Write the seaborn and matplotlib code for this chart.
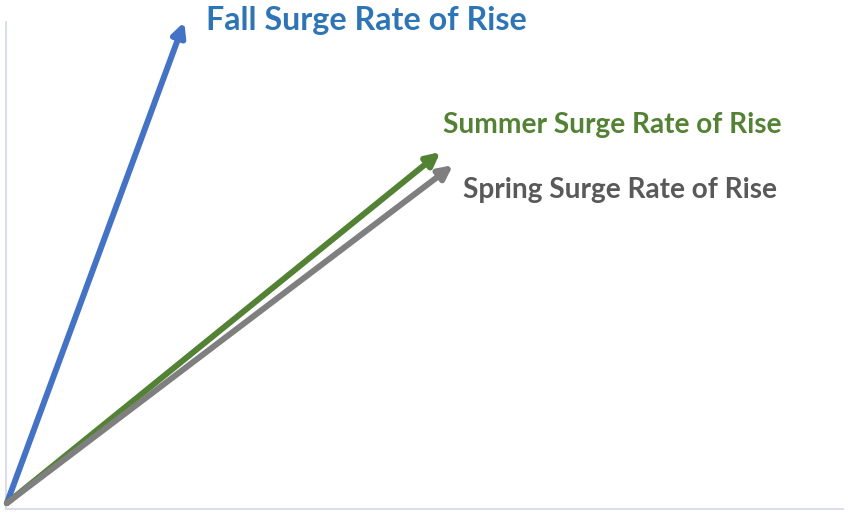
import matplotlib.pyplot as plt
import seaborn as sns

# vetores de taxa de subida (origem -> ponta), unidades do eixo 0-100
surges = ['Fall', 'Summer', 'Spring']
tip_x = [21.3, 51.9, 53.4]
tip_y = [100.0, 73.3, 70.6]
origin = (0.1, 1.2)
labels = ['Fall Surge Rate of Rise', 'Summer Surge Rate of Rise', 'Spring Surge Rate of Rise']
arrow_colors = ['#4472c4', '#548235', '#7f7f7f']
text_colors = ['#2e75b6', '#548235', '#595959']
# posição dos rótulos (esquerda, centro vertical)
label_x = [23.9, 52.2, 54.6]
label_y = [100.4, 78.9, 65.6]
label_size = [23.2, 20.2, 20.2]

sns.set_style('white')
plt.rcParams['font.family'] = ['Lato', 'DejaVu Sans']

fig = plt.figure(figsize=(8.5, 5.14), dpi=100)
ax = fig.add_axes([6 / 850, 5 / 514, 837 / 850, 487 / 514])
ax.set_xlim(0, 100)
ax.set_ylim(0, 100)

for i, s in enumerate(surges):
    ax.annotate('', xy=(tip_x[i], tip_y[i]), xytext=origin,
                arrowprops=dict(arrowstyle='-|>,head_length=0.8,head_width=0.4',
                                color=arrow_colors[i], lw=4.3,
                                shrinkA=0, shrinkB=0),
                annotation_clip=False)
    ax.text(label_x[i], label_y[i], labels[i], color=text_colors[i],
            fontsize=label_size[i], fontweight='bold', ha='left', va='center')

sns.despine(ax=ax)
for side in ['left', 'bottom']:
    ax.spines[side].set_color('#d6dce8')
    ax.spines[side].set_linewidth(1.3)
ax.set_xticks([])
ax.set_yticks([])

plt.savefig('out.png', dpi=100)
